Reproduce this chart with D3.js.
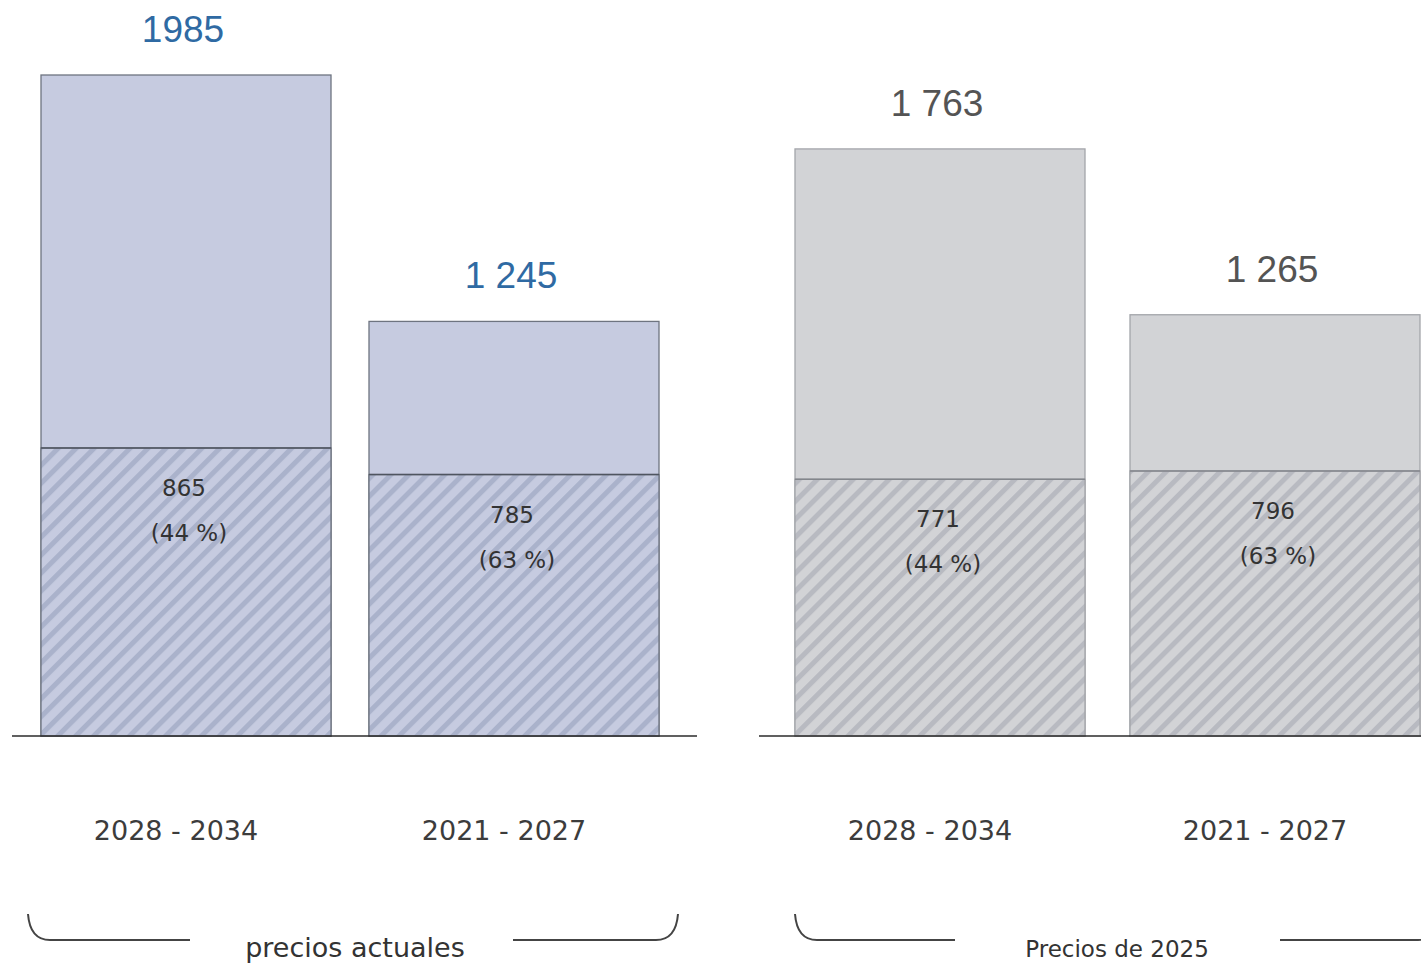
<!DOCTYPE html>
<html><head><meta charset="utf-8">
<script src="https://cdn.jsdelivr.net/npm/d3@7/dist/d3.min.js"></script>
<style>html,body{margin:0;padding:0;background:#fff;}svg{display:block;}</style>
</head><body>
<svg id="chart" width="1421" height="963"></svg>
<script>
// ---- data ----
const categories = ["2028 - 2034", "2021 - 2027"];
const panelTitles = ["precios actuales", "Precios de 2025"];
const totalsCurrent = [1985, 1245];
const partsCurrent = [865, 785];
const totals2025 = [1763, 1265];
const parts2025 = [771, 796];
const totalLabelsCurrent = ["1985", "1 245"];
const totalLabels2025 = ["1 763", "1 265"];
const partLabelsCurrent = ["865", "785"];
const partLabels2025 = ["771", "796"];
const shareLabels = ["(44 %)", "(63 %)"];

const svg = d3.select("#chart");
const baseY = 736;
const y = d3.scaleLinear().domain([0, 1985]).range([baseY, 75]);

const panels = [
  {title: panelTitles[0], totals: totalsCurrent, parts: partsCurrent, tl: totalLabelsCurrent, pl: partLabelsCurrent,
   range: [41, 659], pad: 38/328, fill: "#c6cbe0", stripe: "#aab2cb", stroke: "#6e7480", divider: "#4f5560", topColor: "#2f6aa3",
   axis: [12, 697], brace: {x0: 28, x1: 678, gapL: 190, gapR: 513, cx: 355}, id: "hatchA"},
  {title: panelTitles[1], totals: totals2025, parts: parts2025, tl: totalLabels2025, pl: partLabels2025,
   range: [795, 1420], pad: 45/335, fill: "#d2d3d6", stripe: "#b8bac1", stroke: "#a3a5aa", divider: "#83868c", topColor: "#545454",
   axis: [759, 1421], brace: {x0: 795, x1: 1440, gapL: 955, gapR: 1280, cx: 1117}, id: "hatchB", smallTitle: true}
];

const defs = svg.append("defs");
panels.forEach(p => {
  const s = 12.7;
  const pat = defs.append("pattern").attr("id", p.id).attr("patternUnits", "userSpaceOnUse")
    .attr("width", s).attr("height", s).attr("patternTransform", "rotate(45)");
  pat.append("rect").attr("width", s).attr("height", s).attr("fill", p.fill);
  pat.append("rect").attr("width", 5).attr("height", s).attr("fill", p.stripe);
});

panels.forEach(p => {
  const x = d3.scaleBand().domain(categories).range(p.range).paddingInner(p.pad).paddingOuter(0);
  const g = svg.append("g");
  const rows = categories.map((c, i) => ({c, total: p.totals[i], part: p.parts[i], tl: p.tl[i], pl: p.pl[i], share: shareLabels[i]}));

  g.selectAll("rect.total").data(rows).join("rect").attr("class", "total")
    .attr("x", d => x(d.c)).attr("y", d => y(d.total))
    .attr("width", x.bandwidth()).attr("height", d => baseY - y(d.total))
    .attr("fill", p.fill).attr("stroke", p.stroke).attr("stroke-width", 1.3);
  g.selectAll("rect.part").data(rows).join("rect").attr("class", "part")
    .attr("x", d => x(d.c)).attr("y", d => y(d.part))
    .attr("width", x.bandwidth()).attr("height", d => baseY - y(d.part))
    .attr("fill", `url(#${p.id})`).attr("stroke", p.stroke).attr("stroke-width", 1.3);
  g.selectAll("line.div").data(rows).join("line")
    .attr("x1", d => x(d.c)).attr("x2", d => x(d.c) + x.bandwidth())
    .attr("y1", d => y(d.part)).attr("y2", d => y(d.part))
    .attr("stroke", p.divider).attr("stroke-width", 1.5);

  g.append("line").attr("x1", p.axis[0]).attr("x2", p.axis[1]).attr("y1", baseY).attr("y2", baseY)
    .attr("stroke", "#2b2b2b").attr("stroke-width", 1.6);

  g.selectAll("text.tot").data(rows).join("text")
    .attr("x", d => x(d.c) + x.bandwidth() / 2 - 3).attr("y", d => y(d.total) - 33)
    .attr("text-anchor", "middle").attr("font-family", "Liberation Sans, Arial, sans-serif")
    .attr("font-size", 37).attr("fill", p.topColor).text(d => d.tl);

  g.selectAll("text.pv").data(rows).join("text")
    .attr("x", d => x(d.c) + x.bandwidth() / 2 - 2).attr("y", d => y(d.part) + 48)
    .attr("text-anchor", "middle").attr("font-family", "DejaVu Sans, sans-serif")
    .attr("font-size", 23).attr("fill", "#333").text(d => d.pl);
  g.selectAll("text.ps").data(rows).join("text")
    .attr("x", d => x(d.c) + x.bandwidth() / 2 + 3).attr("y", d => y(d.part) + 93)
    .attr("text-anchor", "middle").attr("font-family", "DejaVu Sans, sans-serif")
    .attr("font-size", 23).attr("fill", "#333").text(d => d.share);

  g.selectAll("text.cat").data(rows).join("text")
    .attr("x", d => x(d.c) + x.bandwidth() / 2 - 10).attr("y", 840)
    .attr("text-anchor", "middle").attr("font-family", "DejaVu Sans, sans-serif")
    .attr("font-size", 27).attr("fill", "#3c3c3c").text(d => d.c);

  const b = p.brace, by = 940, top = 914;
  const pl = d3.path();
  pl.moveTo(b.x0, top); pl.quadraticCurveTo(b.x0 + 2, by, b.x0 + 22, by); pl.lineTo(b.gapL, by);
  pl.moveTo(b.gapR, by); pl.lineTo(b.x1 - 22, by); pl.quadraticCurveTo(b.x1 - 2, by, b.x1, top);
  g.append("path").attr("d", pl.toString()).attr("fill", "none").attr("stroke", "#444").attr("stroke-width", 2);

  g.append("text").attr("x", b.cx).attr("y", 957).attr("text-anchor", "middle")
    .attr("font-family", "DejaVu Sans, sans-serif").attr("font-size", p.smallTitle ? 23 : 27)
    .attr("fill", "#333").text(p.title);
});
</script>
</body></html>
